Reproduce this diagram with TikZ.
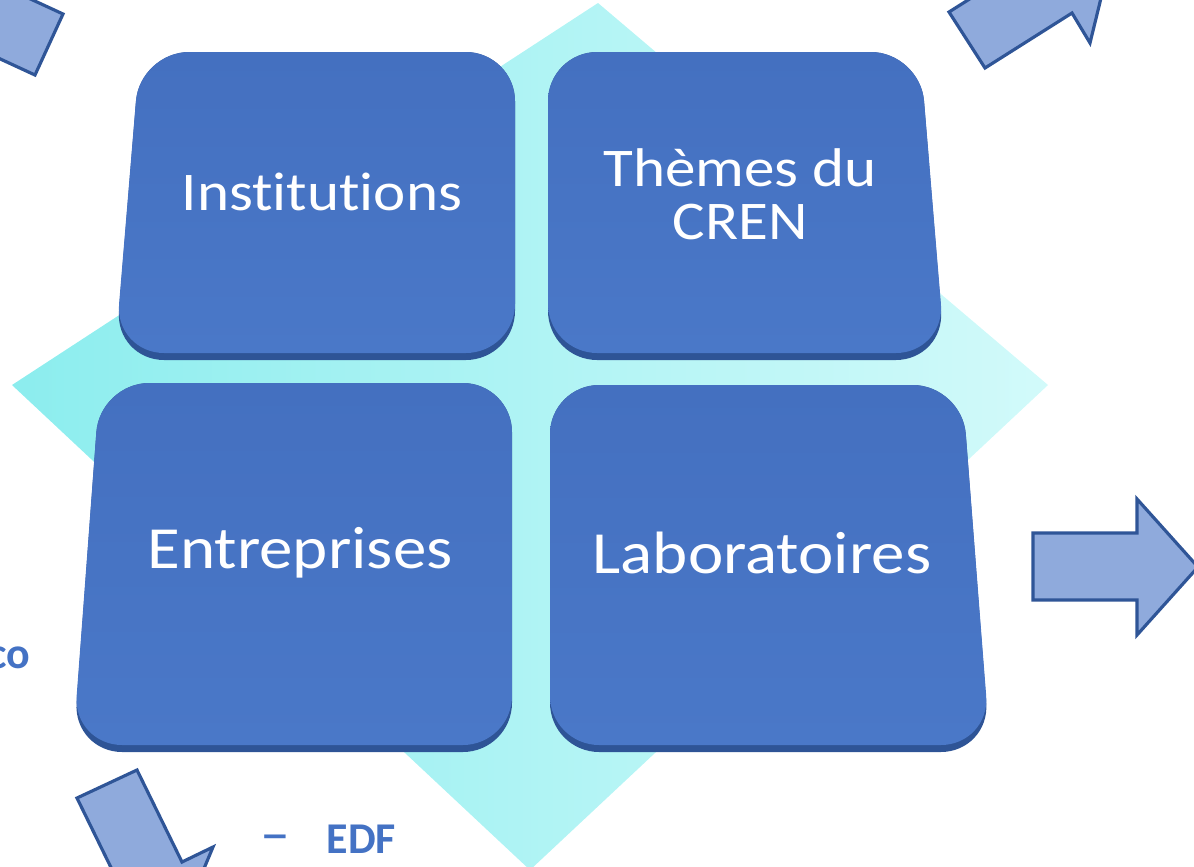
\documentclass[tikz,border=0pt]{standalone}
\usepackage{fontspec}
\setmainfont{Carlito}[Ligatures=NoCommon]
\definecolor{arrowfill}{HTML}{8FAADC}
\definecolor{arrowline}{HTML}{2F5597}
\definecolor{tileblue}{HTML}{4470C0}
\definecolor{tilebot}{HTML}{4A78C8}
\definecolor{tiledark}{HTML}{2E5496}
\definecolor{labelblue}{HTML}{4472C4}
\definecolor{diaL}{HTML}{8CEDEE}
\definecolor{diaR}{HTML}{D2FAFA}
\newcommand{\mytile}[6]{%
  \fill[tiledark, rounded corners=14pt] (#1,#3) -- (#2,#3) -- (#5,#6) -- (#4,#6) -- cycle;
  \shade[top color=tileblue, bottom color=tilebot, rounded corners=14pt] (#1,#3) -- (#2,#3) -- (#5,#6-7) -- (#4,#6-7) -- cycle;}
\begin{document}
\begin{tikzpicture}[x=0.01cm,y=-0.01cm,
  arrowshape/.style={fill=arrowfill, draw=arrowline, line width=0.9pt, line join=miter},
  tiletext/.style={text=white, align=center, inner sep=0pt, xscale=1.12, transform shape},
  labeltext/.style={text=labelblue, font=\fontsize{12.5}{14}\selectfont\bfseries, inner sep=0pt}]
\useasboundingbox (0,0) rectangle (1194,866);
\clip (0,0) rectangle (1194,866);
% background diamond
\shade[left color=diaL, right color=diaR] (598,3) -- (1048,385) -- (530,870) -- (12,385) -- cycle;
% tiles
\mytile{140}{515}{52}{115}{515}{360}
\mytile{548}{920}{52}{548}{945}{360}
\mytile{100}{512}{383}{73}{512}{752}
\mytile{550}{962}{385}{550}{990}{752}
% tile texts
\node[tiletext, font=\fontsize{15.5}{15}\selectfont] (inst) at (322,192) {Institutions};
\node[tiletext, font=\fontsize{15.5}{15}\selectfont] (theme) at (740,194) {Thèmes du\\CREN};
\node[tiletext, font=\fontsize{17}{18}\selectfont] (entr) at (300,553) {Entreprises};
\node[tiletext, font=\fontsize{17}{18}\selectfont] (labo) at (762,553) {Laboratoires};
% block arrows
\path[arrowshape] (35,75) -- (63,14) -- (-28,-28) -- (-56,33) -- cycle;
\path[arrowshape] (949,12) -- (985,68) -- (1072,13) -- (1090,43) -- (1125,-100) -- (1079,-70) -- cycle;
\path[arrowshape] (1033,533) -- (1137,533) -- (1137,499) -- (1198,567) -- (1137,635) -- (1137,600) -- (1033,600) -- cycle;
\path[arrowshape] (77,798) -- (137,770) -- (182,862) -- (213,847) -- (195,890) -- (122,890) -- cycle;
% side labels
\node[labeltext, anchor=base east] (co) at (31,668) {co};
\node[text=labelblue, font=\fontsize{17}{18}\selectfont, inner sep=0pt, anchor=base] (dash) at (275,853) {–};
\node[labeltext, anchor=base west] (edf) at (326,853) {EDF};
\end{tikzpicture}
\end{document}
